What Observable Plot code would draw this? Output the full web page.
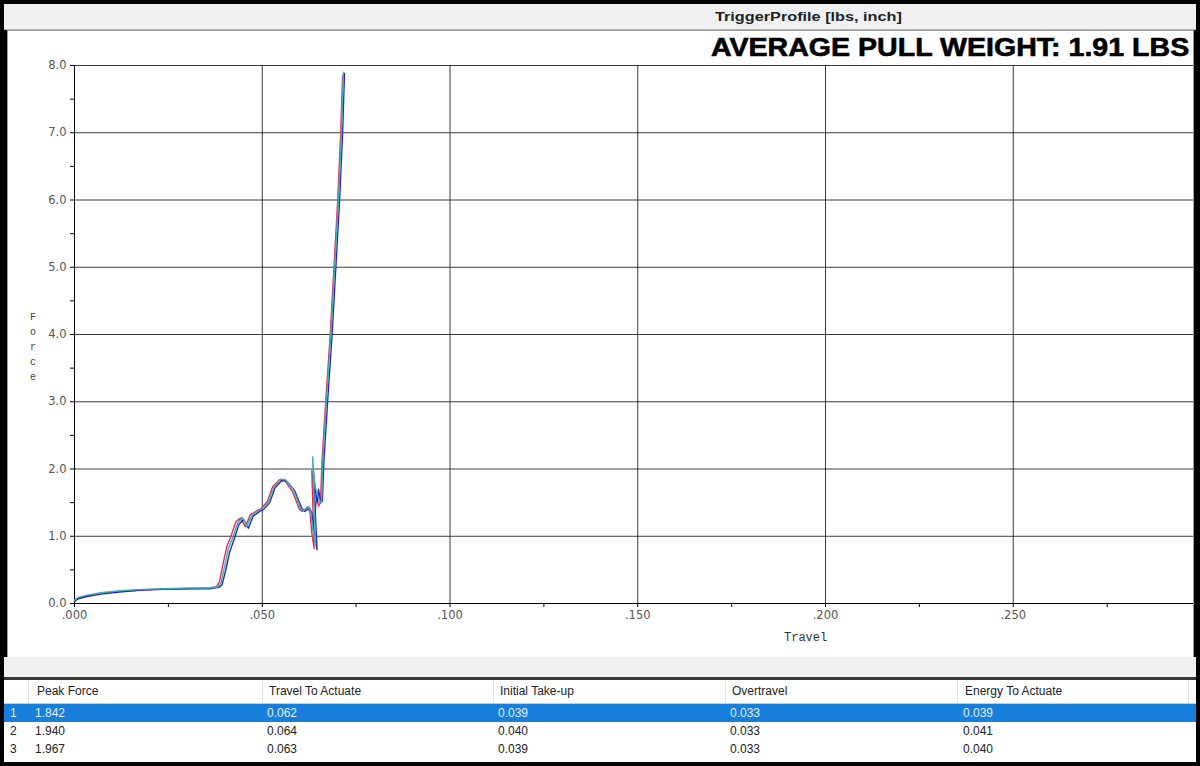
<!DOCTYPE html>
<html><head><meta charset="utf-8">
<script src="https://cdn.jsdelivr.net/npm/d3@7"></script>
<script src="https://cdn.jsdelivr.net/npm/@observablehq/plot@0.6"></script>
<style>
html,body{margin:0;padding:0;background:#000;}
#wrap{position:relative;width:1200px;height:766px;overflow:hidden;background:#000;font-family:"Liberation Sans",Arial,sans-serif;}
#titlebar{position:absolute;left:4px;top:4px;width:1192px;height:25px;background:#f0f0f0;border-bottom:1px solid #b4b4b4;}
#titlebar span{position:absolute;left:711px;top:5px;font-size:13px;font-weight:bold;color:#222;transform:scaleX(1.25);transform-origin:0 0;white-space:nowrap;}
#panel{position:absolute;left:7px;top:30px;width:1185px;height:626px;background:#fff;border:1px solid #9a9a9a;}
#headline{position:absolute;left:711px;top:33px;font-size:25.5px;line-height:28px;font-weight:bold;color:#000;white-space:nowrap;transform:scaleX(1.12);transform-origin:0 0;-webkit-text-stroke:0.6px #000;}
#chart{position:absolute;left:8px;top:31px;}
#xlabel{position:absolute;left:784px;top:631px;font-family:"Liberation Mono","DejaVu Sans Mono",monospace;font-size:12px;color:#333;}
#ylabel{position:absolute;left:27px;top:310px;width:12px;font-family:"Liberation Mono","DejaVu Sans Mono",monospace;font-size:10px;line-height:15px;color:#444;text-align:center;}
#strip{position:absolute;left:4px;top:657px;width:1192px;height:20px;background:#f0f0f0;border-bottom:3px solid #3a3a3a;}
#table{position:absolute;left:4px;top:680px;width:1192px;height:82px;background:#fff;}
.row{position:absolute;left:0;width:1192px;height:18px;font-size:12px;color:#222;}
.row span{position:absolute;top:2px;white-space:nowrap;}
.hdr{top:0;height:23px;border-bottom:1px solid #a8d4f4;}
.hdr span{top:4px;}
.sel{background:#157fdb;color:#e4f1ff;}
.sep{position:absolute;top:0;height:23px;width:1px;background:#e4e4e4;}
</style></head>
<body>
<div id="wrap">
  <div id="titlebar"><span id="title"></span></div>
  <div id="panel"></div>
  <div id="headline"></div>
  <div id="chart"></div>
  <div id="xlabel"></div>
  <div id="ylabel"></div>
  <div id="strip"></div>
  <div id="table"></div>
</div>
<script>
// ---- text ----
const chartTitle = "TriggerProfile [lbs, inch]";
const headline = "AVERAGE PULL WEIGHT: 1.91 LBS";
const xLabel = "Travel";
const yLabel = "Force";

// ---- axis ticks ----
const xMax = 0.298;
const xTicks = [0, 0.05, 0.10, 0.15, 0.20, 0.25];
const xMinor = [0.025, 0.075, 0.125, 0.175, 0.225, 0.275];
const yTicks = [0, 1, 2, 3, 4, 5, 6, 7, 8];
const yMinor = [0.5, 1.5, 2.5, 3.5, 4.5, 5.5, 6.5, 7.5];

// ---- series ----
const seriesNames = ["Pull 1", "Pull 2", "Pull 3"];
const seriesColors = ["#e2304c", "#2424c4", "#3cb0b4"];

const travel1 = [0, 0.001, 0.003, 0.007, 0.012, 0.018, 0.024, 0.030, 0.036, 0.0378, 0.0386, 0.0396, 0.0406, 0.0418, 0.0430, 0.0442, 0.0455, 0.0468, 0.0486, 0.0497, 0.0514, 0.0528, 0.0546, 0.0559, 0.0580, 0.0599, 0.0607, 0.0620, 0.0627, 0.0632, 0.0638, 0.0632, 0.0641, 0.0645, 0.0650, 0.0655, 0.0659, 0.0669, 0.0681, 0.0691, 0.0701, 0.0709, 0.0714];
const force1  = [0.04, 0.08, 0.11, 0.15, 0.18, 0.20, 0.22, 0.22, 0.23, 0.25, 0.32, 0.60, 0.85, 1.02, 1.22, 1.27, 1.14, 1.32, 1.38, 1.41, 1.52, 1.74, 1.84, 1.83, 1.67, 1.40, 1.37, 1.43, 1.36, 1.05, 0.82, 1.98, 1.35, 1.62, 1.45, 1.50, 2.10, 3.00, 4.00, 5.00, 6.00, 7.00, 7.85];

const travel2 = [0, 0.001, 0.003, 0.007, 0.012, 0.018, 0.024, 0.030, 0.036, 0.0385, 0.0393, 0.0403, 0.0413, 0.0426, 0.0438, 0.0450, 0.0463, 0.0476, 0.0493, 0.0504, 0.0520, 0.0534, 0.0552, 0.0565, 0.0586, 0.0605, 0.0613, 0.0626, 0.0632, 0.0638, 0.0646, 0.0636, 0.0646, 0.0650, 0.0655, 0.0660, 0.0664, 0.0674, 0.0686, 0.0696, 0.0706, 0.0714, 0.0719];
const force2  = [0.03, 0.07, 0.10, 0.14, 0.17, 0.20, 0.21, 0.22, 0.22, 0.24, 0.28, 0.50, 0.76, 0.97, 1.18, 1.25, 1.12, 1.30, 1.37, 1.40, 1.50, 1.72, 1.83, 1.82, 1.68, 1.42, 1.37, 1.42, 1.35, 1.08, 0.80, 1.95, 1.50, 1.70, 1.50, 1.52, 2.10, 3.00, 4.00, 5.00, 6.00, 7.00, 7.88];

const travel3 = [0, 0.001, 0.003, 0.007, 0.012, 0.018, 0.024, 0.030, 0.036, 0.0382, 0.0390, 0.0400, 0.0410, 0.0423, 0.0435, 0.0447, 0.0459, 0.0472, 0.0490, 0.0500, 0.0517, 0.0531, 0.0549, 0.0562, 0.0583, 0.0602, 0.0610, 0.0623, 0.0629, 0.0635, 0.0642, 0.0634, 0.0640, 0.0648, 0.0653, 0.0658, 0.0661, 0.0671, 0.0683, 0.0693, 0.0703, 0.0711, 0.0716];
const force3  = [0.05, 0.09, 0.12, 0.16, 0.19, 0.21, 0.22, 0.23, 0.23, 0.25, 0.30, 0.56, 0.82, 1.00, 1.20, 1.28, 1.15, 1.31, 1.38, 1.41, 1.51, 1.73, 1.85, 1.84, 1.69, 1.41, 1.38, 1.44, 1.37, 1.09, 0.86, 2.18, 1.75, 1.60, 1.52, 1.50, 2.12, 3.02, 4.02, 5.02, 6.00, 7.00, 7.90];

// ---- results table ----
const tableColumns = ["Peak Force", "Travel To Actuate", "Initial Take-up", "Overtravel", "Energy To Actuate"];
const peakForce = ["1.842", "1.940", "1.967"];
const travelToActuate = ["0.062", "0.064", "0.063"];
const initialTakeUp = ["0.039", "0.040", "0.039"];
const overtravel = ["0.033", "0.033", "0.033"];
const energyToActuate = ["0.039", "0.041", "0.040"];

// ---- build ----
document.getElementById("title").textContent = chartTitle;
document.getElementById("headline").textContent = headline;
document.getElementById("xlabel").textContent = xLabel;
document.getElementById("ylabel").innerHTML = yLabel.split("").join("<br>");

const rows = [];
[[travel1, force1], [travel2, force2], [travel3, force3]].forEach(([t, f], k) => {
  t.forEach((v, i) => rows.push({t: v, f: f[i], s: seriesNames[k]}));
});

const fmtX = d => d3.format(".3f")(d).replace(/^0/, "");
const tickFont = "DejaVu Sans, Verdana, sans-serif";
const tickText = {fontFamily: tickFont, fontSize: 11.5, fill: "#555", stroke: "#000", label: null};

const plot = Plot.plot({
  width: 1185, height: 625,
  marginLeft: 66, marginRight: 0, marginTop: 34, marginBottom: 53,
  style: {background: "transparent", fontFamily: tickFont, fontSize: "11.5px", color: "#555", overflow: "visible"},
  x: {domain: [0, xMax], label: null},
  y: {domain: [0, 8], label: null},
  color: {domain: seriesNames, range: seriesColors},
  marks: [
    Plot.gridX(xTicks, {stroke: "#1a1a1a", strokeOpacity: 0.85}),
    Plot.gridY(yTicks, {stroke: "#1a1a1a", strokeOpacity: 0.85}),
    Plot.axisX(xMinor, {tickSize: 4, tickFormat: () => "", stroke: "#000", label: null}),
    Plot.axisX(xTicks, {...tickText, tickSize: 4, tickPadding: 3, tickFormat: fmtX}),
    Plot.axisY(yMinor, {tickSize: 4, tickFormat: () => "", stroke: "#000", label: null}),
    Plot.axisY(yTicks, {...tickText, tickSize: 4, tickPadding: 4, tickFormat: d3.format(".1f")}),
    Plot.ruleX([0], {stroke: "#000"}),
    Plot.ruleY([0], {stroke: "#000"}),
    Plot.line(rows, {x: "t", y: "f", z: "s", stroke: "s", strokeWidth: 1.4, curve: "linear"})
  ]
});
document.getElementById("chart").appendChild(plot);

// table
const table = document.getElementById("table");
const colX = [33, 265, 496, 728, 961];
const sepX = [24, 258, 489, 721, 953, 1184];
let html = '<div class="row hdr">';
tableColumns.forEach((c, i) => html += `<span style="left:${colX[i]}px">${c}</span>`);
sepX.forEach(x => html += `<div class="sep" style="left:${x}px"></div>`);
html += '</div>';
const cols = [peakForce, travelToActuate, initialTakeUp, overtravel, energyToActuate];
peakForce.forEach((_, r) => {
  html += `<div class="row${r === 0 ? " sel" : ""}" style="top:${24 + r * 18}px"><span style="left:6px">${r + 1}</span>`;
  cols.forEach((col, i) => html += `<span style="left:${colX[i] - 2}px">${col[r]}</span>`);
  html += '</div>';
});
table.innerHTML = html;
</script>
</body></html>
